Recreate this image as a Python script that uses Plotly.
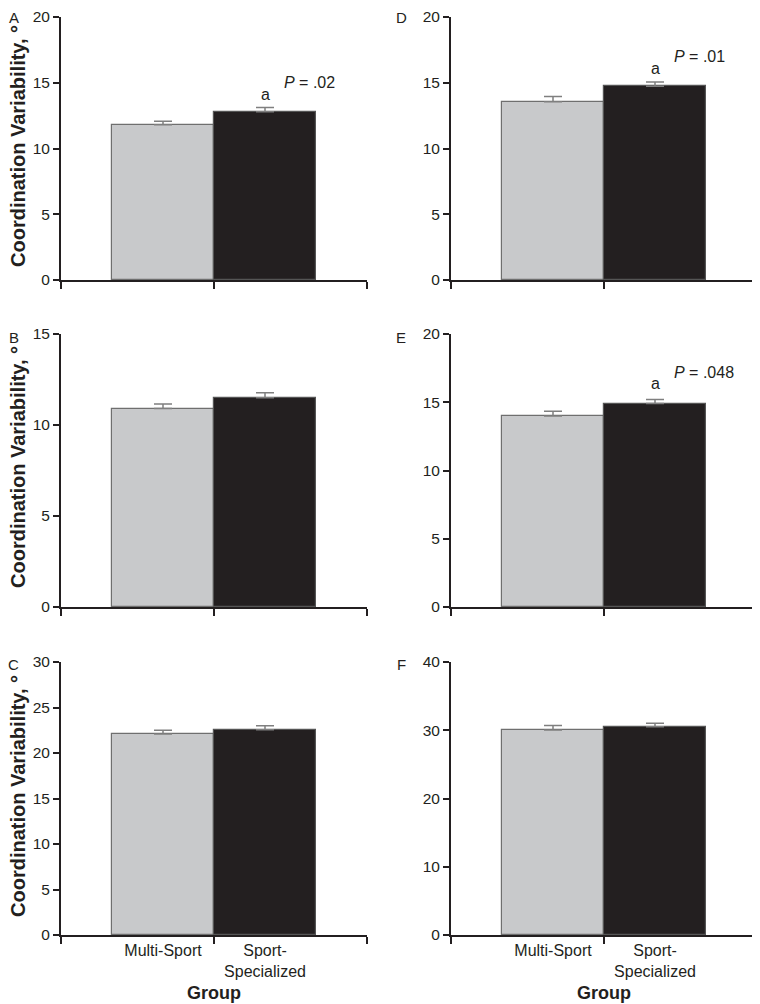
import plotly.graph_objects as go

groups = ["Multi-Sport", "Sport-<br>Specialized"]
panel_letters = ["A", "B", "C", "D", "E", "F"]

# mean values (Multi-Sport, Sport-Specialized)
vals_A = [11.8, 12.8]
vals_B = [10.9, 11.5]
vals_C = [22.1, 22.55]
vals_D = [13.56, 14.74]
vals_E = [14.0, 14.9]
vals_F = [30.05, 30.5]

# upper error (SE)
err_A = [0.28, 0.31]
err_B = [0.26, 0.27]
err_C = [0.39, 0.45]
err_D = [0.39, 0.32]
err_E = [0.34, 0.30]
err_F = [0.63, 0.52]

ymax = {"A": 20, "B": 15, "C": 30, "D": 20, "E": 20, "F": 40}
ydtick = {"A": 5, "B": 5, "C": 5, "D": 5, "E": 5, "F": 10}

# significance annotations: panel -> (a-y, P-y, P-text)
sig = {"A": (14.1, 15.0, ".02"), "D": (16.1, 17.0, ".01"), "E": (16.35, 17.2, ".048")}

data = {"A": (vals_A, err_A), "B": (vals_B, err_B), "C": (vals_C, err_C),
        "D": (vals_D, err_D), "E": (vals_E, err_E), "F": (vals_F, err_F)}

OFF = 8  # page body margin
W, H = 760 - OFF, 1004 - OFF
FONT = "Liberation Sans, Arial, sans-serif"
INK = "#231f20"
GRAY = "#c8c9cb"

def fx(x):
    return (x - OFF) / W

def fy(y):
    return 1 - (y - OFF) / H

col_x = [(61, 367), (451, 757)]
row_y = [(17, 280), (334, 607), (662, 935)]
title_y = [146, 467, 796]
letter_x = [14, 401]
letter_y = [17, 337, 664]

fig = go.Figure()
layout = dict(width=W, height=H, margin=dict(l=0, r=0, t=0, b=0, pad=0, autoexpand=False),
              plot_bgcolor="white", paper_bgcolor="white", showlegend=False,
              font=dict(family=FONT, color=INK), bargap=0)
annotations = []

for i, p in enumerate(panel_letters):
    c = i // 3
    r = i % 3
    n = i + 1
    xa = "x" if n == 1 else f"x{n}"
    ya = "y" if n == 1 else f"y{n}"
    xkey = "xaxis" if n == 1 else f"xaxis{n}"
    ykey = "yaxis" if n == 1 else f"yaxis{n}"
    vals, errs = data[p]
    fig.add_trace(go.Bar(
        x=[0, 1], y=vals, width=1, xaxis=xa, yaxis=ya,
        marker=dict(color=[GRAY, INK], line=dict(color=["#6f6f6f", "#555555"], width=1.2)),
        error_y=dict(type="data", symmetric=False, array=errs, arrayminus=[0, 0],
                     color="#7f7f7f", thickness=1.5, width=9),
    ))
    x0, x1 = col_x[c]
    y0, y1 = row_y[r]
    bottom = (r == 2)
    layout[xkey] = dict(
        domain=[fx(x0), fx(x1)], anchor=ya, range=[-1, 2], automargin=False,
        showline=True, linewidth=2, linecolor=INK, showgrid=False, zeroline=False,
        tickmode="array", tickvals=[0, 1], ticktext=groups if bottom else ["", ""],
        ticks="", showticklabels=bottom, tickfont=dict(size=16, color=INK),
        ticklabeloverflow="allow",
        minor=dict(tickmode="array", tickvals=[-1, 0.5, 2], ticks="outside",
                   ticklen=7, tickwidth=2, tickcolor=INK, showgrid=False),
        fixedrange=True,
    )
    layout[ykey] = dict(
        domain=[fy(y1), fy(y0)], anchor=xa, range=[0, ymax[p]], automargin=False,
        tickmode="linear", tick0=0, dtick=ydtick[p], ticklabeloverflow="allow",
        showline=True, linewidth=2, linecolor=INK, showgrid=False, zeroline=False,
        ticks="outside", ticklen=6, tickwidth=1.5, tickcolor=INK,
        tickfont=dict(size=15.5, color=INK), fixedrange=True,
    )
    # panel letter
    annotations.append(dict(text=p, xref="paper", yref="paper", x=fx(letter_x[c]), y=fy(letter_y[r]),
                            xanchor="center", yanchor="middle", showarrow=False,
                            font=dict(size=15, color=INK)))
    if c == 0:
        annotations.append(dict(text="<b>Coordination Variability, °</b>", xref="paper", yref="paper",
                                x=fx(18), y=fy(title_y[r]), textangle=-90,
                                xanchor="center", yanchor="middle", showarrow=False,
                                font=dict(size=20, color=INK)))
    if bottom:
        annotations.append(dict(text="<b>Group</b>", xref="paper", yref="paper",
                                x=fx((x0 + x1) / 2), y=fy(993),
                                xanchor="center", yanchor="middle", showarrow=False,
                                font=dict(size=18, color=INK)))
    if p in sig:
        ay, py, pt = sig[p]
        annotations.append(dict(text="a", xref=xa, yref=ya, x=1, y=ay, showarrow=False,
                                xanchor="center", yanchor="middle", font=dict(size=16, color=INK)))
        annotations.append(dict(text=f"<i>P</i> = {pt}", xref=xa, yref=ya, x=1.17, y=py,
                                showarrow=False, xanchor="left", yanchor="middle",
                                font=dict(size=16, color=INK)))

layout["annotations"] = annotations
fig.update_layout(**layout)
fig.write_html("out.html")
